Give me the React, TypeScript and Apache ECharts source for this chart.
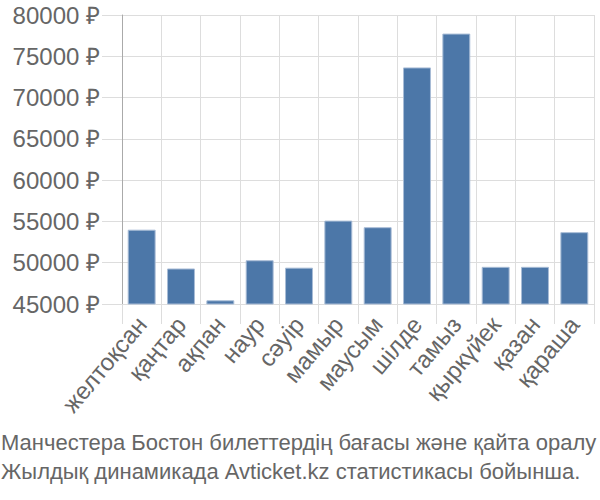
import React, { useEffect, useRef } from "react";
import * as echarts from "echarts";

const months = ["желтоқсан", "қаңтар", "ақпан", "наур", "сәуір", "мамыр", "маусым", "шілде", "тамыз", "қыркүйек", "қазан", "қараша"];
const prices = [54000, 49300, 45450, 50300, 49400, 55100, 54300, 73650, 77750, 49500, 49500, 53700];
const titleLines = ["Манчестера Бостон билеттердің бағасы және қайта оралу", "Жылдық динамикада Avticket.kz статистикасы бойынша."];

export default function App() {
  const ref = useRef<HTMLDivElement>(null);
  useEffect(() => {
    document.body.style.margin = "0";
    const chart = echarts.init(ref.current!, null, { renderer: "svg" });
    chart.setOption({
      animation: false,
      textStyle: { fontFamily: "Liberation Sans" },
      title: {
        text: titleLines.join("\n"),
        left: 1,
        top: 428,
        padding: 0,
        textStyle: { fontSize: 22, fontWeight: "normal", color: "#666", lineHeight: 29, fontFamily: "Liberation Sans" },
      },
      grid: { left: 122, right: 6, top: 15, bottom: 196 },
      xAxis: {
        type: "category",
        data: months,
        axisLine: { show: true, lineStyle: { color: "#ddd" } },
        axisTick: { show: true, length: 20, lineStyle: { color: "#ddd" }, alignWithLabel: false },
        splitLine: { show: true, lineStyle: { color: "#ddd" } },
        axisLabel: { rotate: 50, fontSize: 24, color: "#666", margin: 16, interval: 0 },
      },
      yAxis: {
        type: "value",
        min: 45000,
        max: 80000,
        interval: 5000,
        axisLine: { show: true, lineStyle: { color: "#aaa" } },
        axisTick: { show: true, length: 20, lineStyle: { color: "#ddd" } },
        splitLine: { show: true, lineStyle: { color: "#ddd" } },
        axisLabel: { fontSize: 24, color: "#666", margin: 22, formatter: (v: number) => `${v} ₽` },
      },
      series: [
        {
          type: "bar",
          data: prices,
          barWidth: "71%",
          itemStyle: { color: "#4c77a8", borderColor: "#a8bcd6", borderWidth: 1 },
        },
      ],
    });
    return () => chart.dispose();
  }, []);
  return <div ref={ref} style={{ width: 600, height: 500 }} />;
}
